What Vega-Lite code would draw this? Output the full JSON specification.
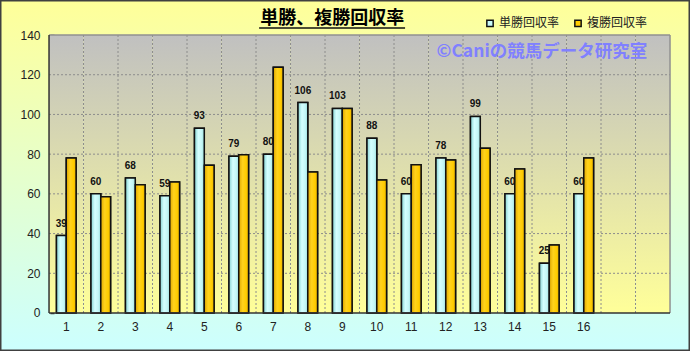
{
  "$schema": "https://vega.github.io/schema/vega-lite/v6.json",
  "width": 690,
  "height": 351,
  "padding": 0,
  "autosize": {"type": "fit", "contains": "padding"},
  "background": "#E6FFD6",
  "config": {
    "view": {
      "stroke": "#404040",
      "strokeWidth": 3,
      "fill": {"gradient": "linear", "x1": 0, "y1": 0, "x2": 0, "y2": 1,
        "stops": [{"offset": 0, "color": "#FFFF99"}, {"offset": 1, "color": "#CCFFFF"}]}
    },
    "axis": {"grid": false, "domain": false, "title": null}
  },
  "datasets": {
    "rates": [
      {"cat": "1", "series": "単勝回収率", "value": 39}, {"cat": "1", "series": "複勝回収率", "value": 78},
      {"cat": "2", "series": "単勝回収率", "value": 60}, {"cat": "2", "series": "複勝回収率", "value": 58.5},
      {"cat": "3", "series": "単勝回収率", "value": 68}, {"cat": "3", "series": "複勝回収率", "value": 64.6},
      {"cat": "4", "series": "単勝回収率", "value": 59}, {"cat": "4", "series": "複勝回収率", "value": 66},
      {"cat": "5", "series": "単勝回収率", "value": 93}, {"cat": "5", "series": "複勝回収率", "value": 74.4},
      {"cat": "6", "series": "単勝回収率", "value": 79}, {"cat": "6", "series": "複勝回収率", "value": 79.7},
      {"cat": "7", "series": "単勝回収率", "value": 80}, {"cat": "7", "series": "複勝回収率", "value": 123.7},
      {"cat": "8", "series": "単勝回収率", "value": 106}, {"cat": "8", "series": "複勝回収率", "value": 71},
      {"cat": "9", "series": "単勝回収率", "value": 103}, {"cat": "9", "series": "複勝回収率", "value": 103},
      {"cat": "10", "series": "単勝回収率", "value": 88}, {"cat": "10", "series": "複勝回収率", "value": 67},
      {"cat": "11", "series": "単勝回収率", "value": 60}, {"cat": "11", "series": "複勝回収率", "value": 74.7},
      {"cat": "12", "series": "単勝回収率", "value": 78}, {"cat": "12", "series": "複勝回収率", "value": 77},
      {"cat": "13", "series": "単勝回収率", "value": 99}, {"cat": "13", "series": "複勝回収率", "value": 83},
      {"cat": "14", "series": "単勝回収率", "value": 60}, {"cat": "14", "series": "複勝回収率", "value": 72.5},
      {"cat": "15", "series": "単勝回収率", "value": 25}, {"cat": "15", "series": "複勝回収率", "value": 34.2},
      {"cat": "16", "series": "単勝回収率", "value": 60}, {"cat": "16", "series": "複勝回収率", "value": 78}
    ],
    "cats": [
      {"cat": "1"}, {"cat": "2"}, {"cat": "3"}, {"cat": "4"}, {"cat": "5"}, {"cat": "6"},
      {"cat": "7"}, {"cat": "8"}, {"cat": "9"}, {"cat": "10"}, {"cat": "11"}, {"cat": "12"},
      {"cat": "13"}, {"cat": "14"}, {"cat": "15"}, {"cat": "16"}, {"cat": "17"}, {"cat": "18"}
    ],
    "hgrid": [{"v": 20}, {"v": 40}, {"v": 60}, {"v": 80}, {"v": 100}, {"v": 120}],
    "one": [{"note": "©Caniの競馬データ研究室", "title": "単勝、複勝回収率"}]
  },
  "layer": [
    {
      "data": {"name": "cats"},
      "mark": {"type": "rect",
        "fill": {"gradient": "linear", "x1": 0, "y1": 0, "x2": 0, "y2": 1,
          "stops": [{"offset": 0, "color": "#C0C0C0"}, {"offset": 1, "color": "#FFFF99"}]}},
      "encoding": {
        "x": {"field": "cat", "type": "nominal", "sort": null,
          "scale": {"domain": ["1","2","3","4","5","6","7","8","9","10","11","12","13","14","15","16","17","18"],
            "paddingInner": 0, "paddingOuter": 1.114, "align": 0.7105},
          "axis": {"orient": "bottom", "offset": -38, "values": ["1","2","3","4","5","6","7","8","9","10","11","12","13","14","15","16"],
            "labelAngle": 0, "ticks": false, "domain": false, "labelPadding": 8, "labelFont": "Liberation Sans",
            "labelFontSize": 12, "labelColor": "#222222", "title": null}},
        "y": {"datum": 0, "type": "quantitative",
          "scale": {"domain": [-19.14, 157.63], "nice": false, "zero": false},
          "axis": {"orient": "left", "offset": -54, "values": [0, 20, 40, 60, 80, 100, 120, 140],
            "domain": false, "ticks": true, "tickSize": 4, "tickColor": "#333333", "tickWidth": 1.5,
            "labelPadding": 10, "labelFont": "Liberation Sans", "labelFontSize": 12, "labelColor": "#222222", "title": null}},
        "y2": {"datum": 140}
      }
    },
    {
      "data": {"name": "cats"},
      "transform": [{"filter": "datum.cat !== '1'"}],
      "mark": {"type": "rule", "stroke": "#8C8C8C", "strokeWidth": 1, "strokeDash": [2, 2]},
      "encoding": {
        "x": {"field": "cat", "type": "nominal", "bandPosition": 0},
        "y": {"datum": 0, "type": "quantitative"},
        "y2": {"datum": 140}
      }
    },
    {
      "data": {"name": "hgrid"},
      "mark": {"type": "rule", "stroke": "#8C8C8C", "strokeWidth": 1, "strokeDash": [2, 2]},
      "encoding": {
        "y": {"field": "v", "type": "quantitative"},
        "x": {"datum": "1", "type": "nominal", "bandPosition": 0},
        "x2": {"datum": "18", "bandPosition": 1}
      }
    },
    {
      "data": {"name": "one"},
      "mark": {"type": "rule", "stroke": "#909090", "strokeWidth": 1.5},
      "encoding": {
        "y": {"datum": 140, "type": "quantitative"},
        "x": {"datum": "1", "type": "nominal", "bandPosition": 0},
        "x2": {"datum": "18", "bandPosition": 1}
      }
    },
    {
      "data": {"name": "one"},
      "mark": {"type": "rule", "stroke": "#909090", "strokeWidth": 1.5},
      "encoding": {
        "x": {"datum": "18", "type": "nominal", "bandPosition": 1},
        "y": {"datum": 0, "type": "quantitative"},
        "y2": {"datum": 140}
      }
    },
    {
      "data": {"name": "rates"},
      "mark": {"type": "bar", "stroke": "#111111", "strokeWidth": 1.5},
      "encoding": {
        "x": {"field": "cat", "type": "nominal"},
        "xOffset": {"field": "series", "type": "nominal",
          "scale": {"domain": ["単勝回収率", "複勝回収率"], "paddingOuter": 0.76, "paddingInner": 0}},
        "y": {"field": "value", "type": "quantitative"},
        "y2": {"datum": 0},
        "color": {"field": "series", "type": "nominal",
          "scale": {"domain": ["単勝回収率", "複勝回収率"], "range": ["#C8FAFA", "#FFCC00"]},
          "legend": {"orient": "none", "legendX": 484, "legendY": 17, "direction": "horizontal", "title": null,
            "symbolType": "square", "symbolSize": 40, "symbolStrokeColor": "#111111", "symbolStrokeWidth": 1.5,
            "labelFont": "Noto Sans CJK JP", "labelFontSize": 12, "labelColor": "#222222",
            "labelOffset": 3, "columnPadding": 11, "padding": 0}}
      }
    },
    {
      "data": {"name": "rates"},
      "mark": {"type": "bar", "stroke": "#111111", "strokeWidth": 1.5},
      "encoding": {
        "x": {"field": "cat", "type": "nominal"},
        "xOffset": {"field": "series", "type": "nominal"},
        "y": {"field": "value", "type": "quantitative"},
        "y2": {"datum": 0},
        "fill": {
          "condition": {"test": "datum.series === '単勝回収率'",
            "value": {"gradient": "linear", "x1": 0, "y1": 0, "x2": 1, "y2": 0,
              "stops": [{"offset": 0, "color": "#86D2D2"}, {"offset": 0.4, "color": "#D4FFFF"}, {"offset": 0.75, "color": "#C4F6F6"}, {"offset": 1, "color": "#96DADA"}]}},
          "value": {"gradient": "linear", "x1": 0, "y1": 0, "x2": 1, "y2": 0,
            "stops": [{"offset": 0, "color": "#E0A800"}, {"offset": 0.4, "color": "#FFD21E"}, {"offset": 0.75, "color": "#FFCC00"}, {"offset": 1, "color": "#E6B000"}]}
        }
      }
    },
    {
      "data": {"name": "rates"},
      "transform": [{"filter": "datum.series === '単勝回収率'"}],
      "mark": {"type": "text", "font": "Liberation Sans", "fontSize": 10, "fontWeight": "bold", "color": "#111111",
        "baseline": "alphabetic", "align": "center", "dy": -9},
      "encoding": {
        "x": {"field": "cat", "type": "nominal"},
        "xOffset": {"field": "series", "type": "nominal"},
        "y": {"field": "value", "type": "quantitative"},
        "text": {"field": "value", "type": "quantitative", "format": "d"}
      }
    },
    {
      "data": {"name": "one"},
      "mark": {"type": "rule", "stroke": "#333333", "strokeWidth": 1.5},
      "encoding": {
        "x": {"datum": "1", "type": "nominal", "bandPosition": 0},
        "y": {"datum": 0, "type": "quantitative"},
        "y2": {"datum": 140}
      }
    },
    {
      "data": {"name": "one"},
      "mark": {"type": "rule", "stroke": "#333333", "strokeWidth": 1.5},
      "encoding": {
        "y": {"datum": 0, "type": "quantitative"},
        "x": {"datum": "1", "type": "nominal", "bandPosition": 0},
        "x2": {"datum": "18", "bandPosition": 1}
      }
    },
    {
      "data": {"name": "one"},
      "mark": {"type": "text", "font": "Noto Sans CJK JP", "fontSize": 17.5, "fontWeight": "bold", "color": "#8080FF",
        "align": "left", "baseline": "middle", "dx": 8},
      "encoding": {
        "x": {"datum": "12", "type": "nominal", "bandPosition": 0},
        "y": {"datum": 131.4, "type": "quantitative"},
        "text": {"field": "note"}
      }
    },
    {
      "data": {"name": "one"},
      "mark": {"type": "text", "font": "Noto Sans CJK JP", "fontSize": 18, "fontWeight": "bold", "color": "#000000",
        "align": "center", "baseline": "middle"},
      "encoding": {
        "x": {"datum": "9", "type": "nominal", "bandPosition": 0.206},
        "y": {"datum": 148.1, "type": "quantitative"},
        "text": {"field": "title"}
      }
    },
    {
      "data": {"name": "one"},
      "mark": {"type": "rule", "stroke": "#111111", "strokeWidth": 1.5},
      "encoding": {
        "y": {"datum": 143.5, "type": "quantitative"},
        "x": {"datum": "7", "type": "nominal", "bandPosition": 0.09},
        "x2": {"datum": "11", "bandPosition": 0.32}
      }
    }
  ]
}
